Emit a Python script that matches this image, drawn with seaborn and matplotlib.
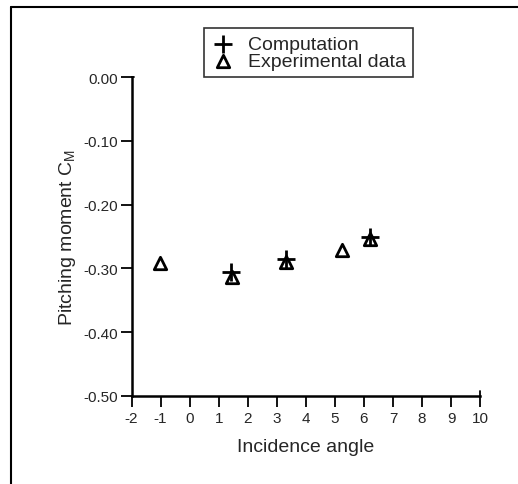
import matplotlib
matplotlib.use("Agg")
import matplotlib.pyplot as plt
import seaborn as sns
import pandas as pd

# data
exp_angle = [-1.02, 1.45, 3.31, 5.24, 6.2]
exp_cm = [-0.291, -0.313, -0.290, -0.271, -0.254]
comp_angle = [1.42, 3.3, 6.22]
comp_cm = [-0.306, -0.286, -0.251]
x_ticks = list(range(-2, 11))
y_ticks = [0.0, -0.1, -0.2, -0.3, -0.4, -0.5]

sns.set_style("ticks")
plt.rcParams["font.family"] = ["Liberation Sans", "DejaVu Sans"]

exp_df = pd.DataFrame({"angle": exp_angle, "cm": exp_cm})
comp_df = pd.DataFrame({"angle": comp_angle, "cm": comp_cm})

fig = plt.figure(figsize=(5.18, 4.85), dpi=100)
ax = fig.add_axes([0.254, 0.182, 0.673, 0.657])

sns.scatterplot(data=comp_df, x="angle", y="cm", marker="+", s=170,
                color="black", linewidth=2.0, ax=ax, label="Computation", zorder=3)
sns.scatterplot(data=exp_df, x="angle", y="cm", marker="^", s=80,
                facecolor="white", edgecolor="black", linewidth=2.0, ax=ax,
                label="Experimental data", zorder=2)

ax.set_xlim(-2, 10)
ax.set_ylim(-0.5, 0.0)
ax.set_xticks(x_ticks)
ax.set_xticklabels([str(t) for t in x_ticks])
ax.set_yticks(y_ticks)
ax.set_yticklabels([f"{t:.2f}" if t != 0 else "0.00" for t in y_ticks])
ax.tick_params(axis="both", direction="out", length=8, width=1.3,
               labelsize=11, color="black")
ax.tick_params(axis="x", pad=3)
ax.tick_params(axis="y", pad=1.5)
for side in ["top", "right"]:
    ax.spines[side].set_visible(False)
for side in ["left", "bottom"]:
    ax.spines[side].set_linewidth(1.8)
    ax.spines[side].set_color("black")
# small end caps as in the original
ax.plot([-2, -1.9], [0.0, 0.0], color="black", lw=1.3, clip_on=False)
ax.plot([10, 10], [-0.5, -0.492], color="black", lw=1.3, clip_on=False)

ax.set_xlabel("Incidence angle", fontsize=14, labelpad=9)
ax.set_ylabel("Pitching moment C$_\\mathregular{M}$", fontsize=14, labelpad=4)

leg = ax.legend(loc="lower center", bbox_to_anchor=(0.507, 1.0), fontsize=14,
                frameon=True, fancybox=False, edgecolor="black", borderpad=0.35,
                handletextpad=0.6, labelspacing=0.0, handlelength=1.3,
                borderaxespad=0)
leg.get_frame().set_linewidth(1.2)

# outer frame of the scanned figure
fig.add_artist(plt.Line2D([0.021, 0.021], [0.0, 0.984], color="black", lw=1.5))
fig.add_artist(plt.Line2D([0.021, 1.0], [0.984, 0.984], color="black", lw=1.5))

fig.savefig("out.png", dpi=100)
